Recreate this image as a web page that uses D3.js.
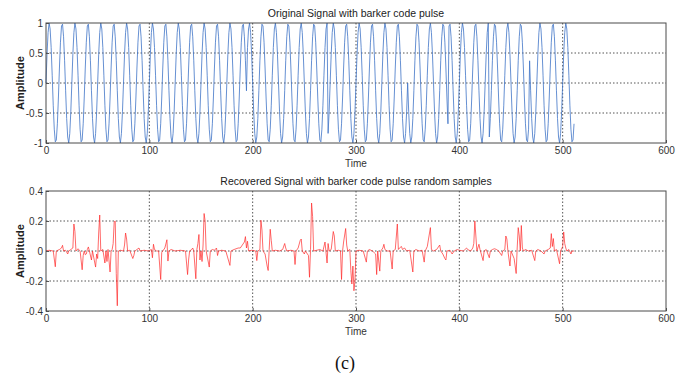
<!DOCTYPE html>
<html>
<head>
<meta charset="utf-8">
<script src="https://cdn.jsdelivr.net/npm/d3@7"></script>
<style>
body{margin:0;background:#fff;}
svg{display:block;font-family:"Liberation Sans",Arial,sans-serif;}
.grid line{stroke:#2a2a2a;stroke-width:0.8;stroke-dasharray:1.5,2;}
.axis text{font-size:10px;fill:#333;}
.axis line{stroke:#555;}
.axis path{display:none;}
</style>
</head>
<body>
<div id="chart"></div>
<script>
// tick values
var xTicks = [0, 100, 200, 300, 400, 500, 600];
var origYTicks = [-1, -0.5, 0, 0.5, 1];
var recYTicks = [-0.4, -0.2, 0, 0.2, 0.4];

// original signal, one sample per time step (0..511)
var originalSignal = [
0,.48,.84,1,.9,.59,.13,-.37,-.77,-.98,-.95,-.68,-.25,.25,.68,.95,.98,.77,.37,-.13,-.59,-.9,-1,-.84,-.48,
0,.48,.84,1,.9,.59,.13,-.37,-.77,-.98,-.95,-.68,-.25,.25,.68,.95,.98,.77,.37,-.13,-.59,-.9,-1,-.84,-.48,
0,.48,.84,1,.9,.59,.13,-.37,-.77,-.98,-.95,-.68,-.25,.25,.68,.95,.98,.77,.37,-.13,-.59,-.9,-1,-.84,-.48,
0,.48,.84,1,.9,.59,.13,-.37,-.77,-.98,-.95,-.68,-.25,.25,.68,.95,.98,.77,.37,-.13,-.59,-.9,-1,-.84,-.48,
0,.48,.84,1,.9,.59,.13,-.37,-.77,-.98,-.95,-.68,-.25,.25,.68,.95,.98,.77,.37,-.13,-.59,-.9,-1,-.84,-.48,
0,.48,.84,1,.9,.59,.13,-.37,-.77,-.98,-.95,-.68,-.25,.25,.68,.95,.98,.77,.37,-.13,-.59,-.9,-1,-.84,-.48,
0,.48,.84,1,.9,.59,.13,-.37,-.77,-.98,-.95,-.68,-.25,.25,.68,.95,.98,.77,.37,-.13,-.59,-.9,-1,-.84,-.48,
0,.48,.84,1,.9,.59,.13,-.37,-.77,-.98,-.95,-.68,-.25,.25,.68,.95,.98,.77,.37,-.13,.59,.9,1,.84,.48,
0,-.48,-.84,-1,-.9,-.59,-.13,.37,.77,.98,.95,.68,.25,-.25,-.68,-.95,-.98,-.77,-.37,.13,.59,.9,1,.84,.48,
0,-.48,-.84,-1,-.9,-.59,-.13,.37,.77,.98,.95,.68,.25,-.25,-.68,-.95,-.98,-.77,-.37,.13,.59,.9,1,.84,.48,
0,-.48,-.84,-1,-.9,-.59,-.13,.37,.77,.98,.95,.68,.25,-.25,-.68,-.95,-.98,-.77,-.37,.13,.59,.9,1,-.84,-.48,
0,.48,.84,1,.9,.59,.13,-.37,-.77,-.98,-.95,-.68,-.25,.25,.68,.95,.98,.77,.37,-.13,-.59,-.9,-1,-.84,-.48,
0,.48,.84,1,.9,.59,.13,-.37,-.77,-.98,-.95,-.68,-.25,.25,.68,.95,.98,.77,.37,-.13,-.59,-.9,-1,-.84,-.48,
0,.48,.84,1,.9,.59,.13,-.37,-.77,-.98,-.95,-.68,-.25,.25,.68,.95,.98,.77,.37,-.13,-.59,-.9,-1,-.84,-.48,
0,-.48,-.84,-1,-.9,-.59,-.13,.37,.77,.98,.95,.68,.25,-.25,-.68,-.95,-.98,-.77,-.37,.13,.59,.9,1,.84,.48,
0,-.48,-.84,-1,-.9,-.59,-.13,.37,.77,.98,.95,.68,.25,-.25,-.68,.95,.98,.77,.37,-.13,-.59,-.9,-1,-.84,-.48,
0,.48,.84,1,.9,.59,.13,-.37,-.77,-.98,-.95,-.68,-.25,.25,.68,.95,.98,.77,.37,-.13,-.59,-.9,-1,-.84,-.48,
0,.48,.84,1,-.9,-.59,-.13,.37,.77,.98,.95,.68,.25,-.25,-.68,-.95,-.98,-.77,-.37,.13,.59,.9,1,.84,.48,
0,-.48,-.84,-1,-.9,-.59,-.13,.37,.77,.98,.95,.68,.25,-.25,-.68,-.95,-.98,-.77,.37,-.13,-.59,-.9,-1,-.84,-.48,
0,.48,.84,1,.9,.59,.13,-.37,-.77,-.98,-.95,-.68,-.25,.25,.68,.95,.98,.77,.37,-.13,-.59,-.9,-1,-.84,-.48,
0,.48,.84,1,.9,.59,.13,-.37,-.77,-.98,-.95,-.68
];

// recovered signal as (time, amplitude) pairs
var recoveredTime = [0,3,7,9,10,13,15,16,17,19,21,22,24,26,27,28,29,31,33,35,36,37,38,39,40,41,42,44,45,48,49,50,51,52,53,55,57,58,59,60,62,63,64,65,66,67,68,69,70,72,75,76,77,78,79,81,84,85,86,88,90,91,95,99,
  102,103,104,105,107,109,111,112,113,115,117,118,119,121,125,130,135,137,138,139,141,142,143,145,146,147,148,149,150,151,152,153,154,155,158,159,161,163,165,166,167,170,174,178,179,182,186,188,190,192,193,194,195,196,199,
  203,204,205,207,208,209,210,212,214,215,216,217,218,219,222,226,229,231,232,233,237,240,241,242,244,246,247,248,250,251,254,255,256,257,258,259,262,265,268,270,272,273,274,276,278,279,280,283,285,286,287,288,290,291,292,294,295,296,297,298,299,
  300,303,307,310,311,313,316,319,320,321,323,324,326,327,328,330,333,335,336,338,340,341,342,344,345,347,349,352,355,356,358,361,364,366,367,369,372,373,375,378,381,382,384,386,387,388,391,393,395,398,
  400,404,407,408,411,413,414,415,416,417,419,420,423,424,426,429,430,432,434,436,438,441,442,444,445,446,447,449,450,453,455,456,457,458,459,460,461,462,464,467,470,473,474,476,479,482,483,486,488,489,490,491,492,494,497,498,
  500,501,502,503,504,506,508,509,511];
var recoveredValue = [0,.005,0,-.105,0,.01,.02,.038,0,.005,-.02,0,.01,.02,.18,.13,0,.015,0,-.125,-.03,0,-.025,-.02,.01,.027,0,-.06,0,-.107,-.02,-.05,.12,.24,0,.01,-.08,0,-.07,.01,-.14,0,.01,.05,.195,.2,-.15,-.365,0,.005,0,.04,.12,.08,0,.005,-.05,-.03,0,.01,.02,0,.005,0,
  .01,-.045,.045,.01,0,0,-.19,-.01,0,.02,.075,-.067,0,.01,0,.005,0,-.157,-.06,0,.01,.02,0,-.185,.01,.05,.11,-.06,0,-.07,.04,.25,.2,0,-.107,0,.01,.005,.02,-.03,0,.005,0,-.096,0,.01,.02,.02,.04,.06,.096,.02,.065,0,.005,
  0,-.064,0,.01,.205,.14,0,-.02,-.1,-.13,.01,.145,.07,0,.005,0,.01,.05,.02,0,.005,0,-.09,0,.02,.07,.08,0,-.02,0,-.03,-.175,.01,.32,.23,0,.005,.01,0,.06,-.08,.05,0,.01,.13,.1,0,.005,0,-.19,0,.06,.15,.04,0,.01,-.13,-.22,-.1,-.265,-.2,
  0,.005,0,-.074,0,.01,0,-.02,-.157,0,-.134,0,.02,.045,.01,0,0,-.12,0,.01,.18,.01,.02,.03,.01,.02,0,.005,-.14,0,.01,0,.005,-.074,0,.03,.156,.01,0,.01,.04,0,-.02,-.05,-.06,0,.005,-.02,0,.01,
  .005,0,.02,.01,0,.02,.05,.2,.1,0,.045,.01,-.064,0,.01,-.045,0,.01,.015,.01,0,-.03,0,.01,.1,.08,0,-.1,0,-.05,-.15,.02,.156,.1,0,.17,.02,0,.01,0,.005,-.064,0,.01,0,-.02,0,.01,.02,.116,.03,.083,0,.01,-.085,0,
  .03,.127,.05,.02,0,.01,-.02,0,0];

var W = 680, H = 374;
var left = 46, right = 666;

var svg = d3.select('#chart').append('svg')
  .attr('width', W)
  .attr('height', H);

function drawPanel(cfg){
  var x = d3.scaleLinear().domain([0, 600]).range([left, right]);
  var y = d3.scaleLinear().domain(cfg.yDomain).range([cfg.bottom, cfg.top]);

  var g = svg.append('g');

  // dotted grid
  var grid = g.append('g').attr('class', 'grid');
  grid.selectAll('.vg')
    .data(xTicks.slice(1, -1))
    .enter().append('line')
    .attr('x1', function(d){ return x(d); })
    .attr('x2', function(d){ return x(d); })
    .attr('y1', cfg.top)
    .attr('y2', cfg.bottom);
  grid.selectAll('.hg')
    .data(cfg.yTicks.slice(1, -1))
    .enter().append('line')
    .attr('y1', function(d){ return y(d); })
    .attr('y2', function(d){ return y(d); })
    .attr('x1', left)
    .attr('x2', right);

  // the signal
  var line = d3.line()
    .x(function(d){ return x(d[0]); })
    .y(function(d){ return y(d[1]); });
  g.append('path')
    .datum(cfg.data)
    .attr('fill', 'none')
    .attr('stroke', cfg.color)
    .attr('stroke-width', cfg.width)
    .attr('stroke-linejoin', 'round')
    .attr('d', line);

  g.append('g')
    .attr('class', 'axis')
    .attr('transform', 'translate(0,' + cfg.bottom + ')')
    .call(d3.axisBottom(x).tickValues(xTicks).tickSizeInner(-3).tickSizeOuter(0).tickPadding(4));

  g.append('g')
    .attr('class', 'axis')
    .attr('transform', 'translate(' + left + ',0)')
    .call(d3.axisLeft(y).tickValues(cfg.yTicks).tickSizeInner(-3).tickSizeOuter(0).tickPadding(3)
      .tickFormat(function(d){ return String(d); }));

  // box
  g.append('rect')
    .attr('x', left)
    .attr('y', cfg.top)
    .attr('width', right - left)
    .attr('height', cfg.bottom - cfg.top)
    .attr('fill', 'none')
    .attr('stroke', '#4a4a4a')
    .attr('stroke-width', 1);

  svg.append('text')
    .attr('x', (left + right) / 2)
    .attr('y', cfg.top - 6)
    .attr('text-anchor', 'middle')
    .style('font-size', '10.5px')
    .style('fill', '#222')
    .text(cfg.title);

  svg.append('text')
    .attr('x', (left + right) / 2)
    .attr('y', cfg.bottom + 24)
    .attr('text-anchor', 'middle')
    .style('font-size', '10px')
    .style('fill', '#333')
    .text('Time');

  svg.append('text')
    .attr('transform', 'translate(24,' + ((cfg.top + cfg.bottom) / 2) + ') rotate(-90)')
    .attr('text-anchor', 'middle')
    .style('font-size', '11px')
    .style('font-weight', 'bold')
    .style('fill', '#222')
    .text('Amplitude');
}

drawPanel({
  top: 23, bottom: 143,
  yDomain: [-1, 1], yTicks: origYTicks,
  data: originalSignal.map(function(v, i){ return [i, v]; }),
  color: '#3f73c6', width: 0.8,
  title: 'Original Signal with barker code pulse'
});

drawPanel({
  top: 191, bottom: 311,
  yDomain: [-0.4, 0.4], yTicks: recYTicks,
  data: recoveredTime.map(function(t, i){ return [t, recoveredValue[i]]; }),
  color: '#ff2a2a', width: 0.7,
  title: 'Recovered Signal with barker code pulse random samples'
});

svg.append('text')
  .attr('x', 345)
  .attr('y', 369)
  .attr('text-anchor', 'middle')
  .style('font-family', '"Liberation Serif","Times New Roman",serif')
  .style('font-size', '18px')
  .style('fill', '#111')
  .text('(c)');
</script>
</body>
</html>
